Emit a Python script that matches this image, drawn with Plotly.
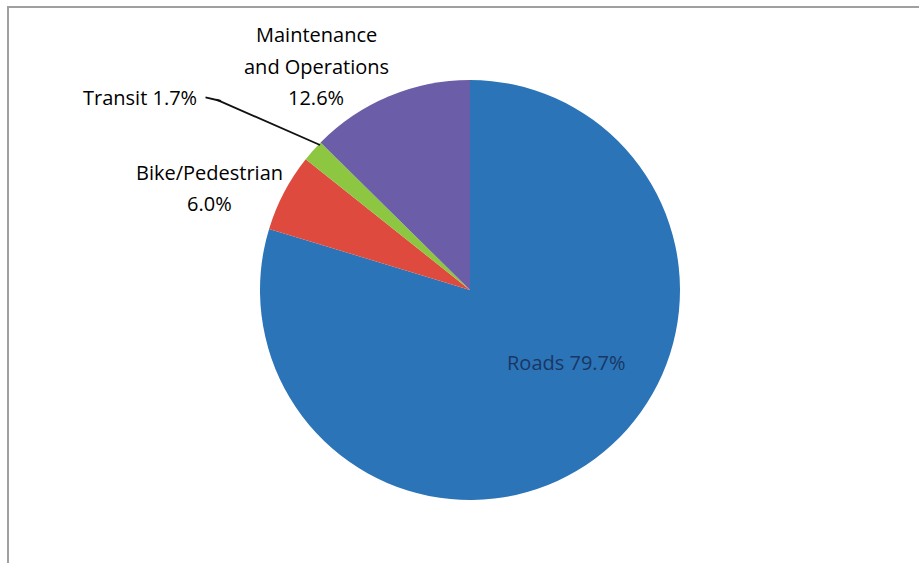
import plotly.graph_objects as go

W, H = 919, 563

categories = ["Roads", "Bike/Pedestrian", "Transit", "Maintenance and Operations"]
values = [79.7, 6.0, 1.7, 12.6]
label_text = ["Roads 79.7%", "Bike/Pedestrian<br>6.0%", "Transit 1.7%",
              "Maintenance<br>and Operations<br>12.6%"]
colors = ["#2b74b8", "#de4a3d", "#8dc641", "#6b5da8"]

# pie geometry (pixels)
cx, cy, r = 470, 290, 210

def px(x):
    return x / W

def py(y):
    return 1 - y / H

fig = go.Figure(go.Pie(
    labels=categories,
    values=values,
    sort=False,
    direction="clockwise",
    rotation=0,
    marker=dict(colors=colors, line=dict(width=0)),
    textinfo="none",
    hoverinfo="label+percent",
    showlegend=False,
    domain=dict(x=[px(cx - r), px(cx + r)], y=[py(cy + r), py(cy - r)]),
))

font_family = "'Open Sans', Lato, sans-serif"
fsize = 20
line_gap = 31

# label anchor positions (pixels): centre x, y of first line
label_pos = [(566, 362), (209, 172), (140, 97), (316, 35)]
label_col = ["#1a3763", "#000000", "#000000", "#000000"]

annotations = []
for txt, (lx, ly), col in zip(label_text, label_pos, label_col):
    for k, line in enumerate(txt.split("<br>")):
        annotations.append(dict(
            x=px(lx), y=py(ly + k * line_gap), text=line, showarrow=False,
            xanchor="center", yanchor="middle",
            font=dict(family=font_family, size=fsize, color=col)))

# leader line for Transit
annotations.append(dict(x=px(320), y=py(145), ax=-105, ay=-46,
                        text="", showarrow=True, arrowhead=0,
                        arrowwidth=1.8, arrowcolor="#111111"))
annotations.append(dict(x=px(221), y=py(101), ax=-17, ay=-4,
                        text="", showarrow=True, arrowhead=0,
                        arrowwidth=1.8, arrowcolor="#111111"))
for a in annotations:
    a["xref"] = "paper"
    a["yref"] = "paper"

fig.update_layout(
    width=W, height=H,
    margin=dict(l=0, r=0, t=0, b=0),
    paper_bgcolor="white",
    plot_bgcolor="white",
    annotations=annotations,
    shapes=[dict(type="rect", xref="paper", yref="paper",
                 x0=px(8), x1=1.02, y0=-0.02, y1=py(7),
                 line=dict(color="#a0a0a0", width=2), fillcolor="rgba(0,0,0,0)")],
)

fig.write_html("out.html", config={"displayModeBar": False},
               post_script="document.body.style.margin='0';document.body.style.overflow='hidden';")
